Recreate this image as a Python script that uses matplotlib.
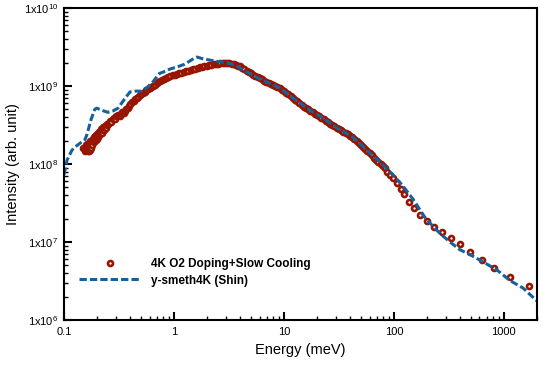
import matplotlib
matplotlib.use("Agg")
import matplotlib.pyplot as plt
from matplotlib.ticker import LogLocator, FixedLocator, NullFormatter

plt.rcParams['font.family'] = ['Liberation Sans', 'DejaVu Sans']
plt.rcParams['mathtext.fontset'] = 'custom'
plt.rcParams['mathtext.rm'] = 'Liberation Sans'

# --- data ---
# red: 4K O2 doping + slow cooling (energies in meV, intensity in units of 1e8)
red_e = [0.150, 0.155, 0.156, 0.158, 0.159, 0.160, 0.161, 0.163, 0.164, 0.165,
         0.166, 0.168, 0.169, 0.170, 0.171, 0.172, 0.174, 0.175, 0.177, 0.178,
         0.180, 0.181, 0.183, 0.184, 0.186, 0.187, 0.189, 0.190, 0.192, 0.194,
         0.196, 0.198, 0.200, 0.202, 0.204, 0.206, 0.208, 0.210, 0.212, 0.215,
         0.218, 0.220, 0.222, 0.225, 0.228, 0.230, 0.233, 0.236, 0.239, 0.242,
         0.245, 0.248, 0.252,
         0.255, 0.262, 0.270, 0.278, 0.286, 0.294, 0.300, 0.310, 0.320, 0.330,
         0.340, 0.350, 0.360, 0.370, 0.380, 0.390, 0.400, 0.415, 0.430, 0.445,
         0.460, 0.475, 0.490, 0.505, 0.520, 0.540, 0.560, 0.580, 0.600, 0.620,
         0.645, 0.670, 0.695, 0.720, 0.750, 0.780, 0.810, 0.850, 0.890, 0.930, 0.970,
         1.02, 1.07, 1.12, 1.17, 1.23, 1.29, 1.35, 1.42, 1.49, 1.56, 1.64, 1.72,
         1.80, 1.89, 1.98, 2.08, 2.18, 2.29, 2.40, 2.52, 2.64, 2.77, 2.90, 3.04,
         3.19, 3.35, 3.52,
         3.63, 3.80, 3.98, 4.17, 4.37, 4.57, 4.79, 5.01, 5.25, 5.50, 5.75, 6.03,
         6.31, 6.61, 6.92, 7.24, 7.59, 7.94, 8.32, 8.71, 9.12, 9.55, 10.0, 10.5,
         11.0, 11.5, 12.0, 12.6, 13.2, 13.8, 14.5, 15.1, 15.8, 16.6, 17.4, 18.2,
         19.1, 20.0, 20.9, 21.9, 22.9, 24.0, 25.1, 26.3, 27.5, 28.8, 30.2, 31.6,
         33.1, 34.7, 36.3, 38.0, 39.8, 41.7, 43.7, 45.7, 47.9, 50.1, 52.5, 55.0,
         57.5, 60.3, 63.1, 66.1, 69.2, 72.4, 75.9, 79.4,
         82.8, 87.0, 92.0, 98.5, 106, 116, 123, 137, 152, 172, 199, 231, 273,
         330, 398, 491, 631, 811, 1134, 1686]
red_i = [1.60, 1.55, 1.48, 1.75, 1.60, 1.50, 1.80, 1.65, 1.50, 1.48,
         1.72, 1.60, 1.45, 1.85, 1.62, 1.50, 1.95, 1.70, 1.60, 2.00,
         1.85, 1.75, 1.95, 2.10, 2.20, 1.90, 2.00, 2.30, 2.15, 2.05,
         2.35, 2.45, 2.10, 2.20, 2.40, 2.55, 2.60, 2.35, 2.45, 2.80,
         2.65, 2.50, 2.80, 2.95, 2.75, 2.70, 2.95, 3.10, 3.05, 2.90,
         3.15, 3.30, 3.25,
         3.35, 3.60, 3.50, 3.75, 3.90, 3.80, 4.10, 4.20, 4.10, 4.40,
         4.60, 4.50, 4.80, 5.00, 5.30, 5.50, 5.90, 6.20, 6.50, 6.80,
         7.10, 7.30, 7.60, 7.90, 8.20, 8.50, 8.80, 9.10, 9.40, 9.70,
         10.0, 10.4, 10.8, 11.1, 11.5, 11.9, 12.2, 12.6, 13.0, 13.4, 13.7,
         14.0, 14.3, 14.6, 14.9, 15.2, 15.5, 15.8, 16.1, 16.4, 16.7, 17.0, 17.3,
         17.6, 17.9, 18.2, 18.5, 18.8, 19.0, 19.2, 19.4, 19.5, 19.6, 19.7, 19.7,
         19.6, 19.4, 19.0,
         18.7, 18.3, 17.8, 17.1, 16.4, 15.6, 15.1, 14.6, 14.0, 13.6, 13.2, 12.6,
         12.2, 11.7, 11.3, 10.9, 10.5, 10.2, 9.90, 9.60, 9.30, 8.90, 8.60, 8.20,
         7.80, 7.40, 7.05, 6.70, 6.35, 6.05, 5.75, 5.45, 5.20, 5.00, 4.80, 4.60,
         4.42, 4.25, 4.10, 3.93, 3.78, 3.60, 3.45, 3.30, 3.17, 3.03, 2.92, 2.80,
         2.69, 2.59, 2.49, 2.40, 2.30, 2.21, 2.10, 1.99, 1.87, 1.77, 1.66, 1.56,
         1.47, 1.38, 1.29, 1.21, 1.14, 1.07, 1.00, 0.94,
         0.89, 0.80, 0.72, 0.66, 0.57, 0.48, 0.41, 0.326, 0.273, 0.222, 0.186,
         0.156, 0.134, 0.112, 0.094, 0.074, 0.059, 0.046, 0.0356, 0.0273]

# blue: y-smeth4K (Shin)
blue_e = [0.100, 0.1065, 0.118, 0.126, 0.140, 0.155, 0.162, 0.175, 0.190, 0.199,
          0.220, 0.250, 0.280, 0.310, 0.350, 0.398, 0.450, 0.510, 0.580, 0.640,
          0.740, 0.790, 0.920, 1.06, 1.25, 1.40, 1.55, 1.62, 1.80, 2.12, 2.60,
          3.10, 3.60, 4.60, 5.60, 7.00, 9.20, 12.1, 17.2, 22.6, 30.4, 42.5, 56.6,
          74.8, 98.5, 120, 150, 190, 230, 272, 330, 396, 500, 601, 862, 1137,
          1494, 2000]
blue_i = [0.73, 1.12, 1.50, 1.65, 1.85, 2.05, 2.40, 3.60, 5.00, 5.20,
          4.90, 4.60, 4.80, 5.20, 6.60, 8.40, 8.60, 8.60, 9.80, 11.2,
          14.5, 15.0, 16.5, 17.5, 19.0, 21.0, 23.0, 23.5, 22.5, 21.5, 20.5,
          19.7, 18.5, 15.1, 13.0, 11.2, 9.40, 7.00, 4.90, 3.90, 2.90, 2.20, 1.51,
          1.06, 0.72, 0.53, 0.35, 0.21, 0.155, 0.123, 0.098, 0.080, 0.068, 0.059,
          0.044, 0.032, 0.0257, 0.0175]

red_label = "4K O2 Doping+Slow Cooling"
blue_label = "y-smeth4K (Shin)"
y_ticks = [1e6, 1e7, 1e8, 1e9, 1e10]
y_ticklabels = [r"1x10$^{6}$", r"1x10$^{7}$", r"1x10$^{8}$", r"1x10$^{9}$", r"1x10$^{10}$"]
x_ticks = [0.1, 1, 10, 100, 1000]
x_ticklabels = ["0.1", "1", "10", "100", "1000"]

red_c = '#961400'
blue_c = '#16609c'

fig = plt.figure(figsize=(5.45, 3.85), dpi=100)
ax = fig.add_axes([0.1174, 0.1688, 0.8679, 0.8104])

ax.plot(red_e, [v * 1e8 for v in red_i], linestyle='none', marker='o',
        markersize=3.6, markeredgewidth=1.9, markeredgecolor=red_c,
        markerfacecolor='white', label=red_label)
ax.plot(blue_e, [v * 1e8 for v in blue_i], color=blue_c, linewidth=2.2,
        linestyle=(0, (2.4, 1.0)), label=blue_label)

ax.set_xscale('log')
ax.set_yscale('log')
ax.set_xlim(0.1, 2000)
ax.set_ylim(1e6, 1e10)

ax.xaxis.set_major_locator(FixedLocator(x_ticks))
ax.set_xticklabels(x_ticklabels)
ax.xaxis.set_minor_locator(LogLocator(base=10, subs=range(2, 10)))
ax.xaxis.set_minor_formatter(NullFormatter())
ax.yaxis.set_major_locator(FixedLocator(y_ticks))
ax.set_yticklabels(y_ticklabels)
ax.yaxis.set_minor_locator(LogLocator(base=10, subs=range(2, 10)))
ax.yaxis.set_minor_formatter(NullFormatter())

ax.tick_params(which='both', direction='in', top=False, right=False, labelsize=8)
ax.tick_params(which='major', length=6, width=1.5)
ax.tick_params(which='minor', length=3, width=1.0)
ax.tick_params(axis='y', pad=4)
ax.tick_params(axis='x', pad=5)
for s in ax.spines.values():
    s.set_linewidth(1.5)

ax.set_xlabel("Energy (meV)", fontsize=10.5, labelpad=4)
ax.set_ylabel("Intensity (arb. unit)", fontsize=10.5, labelpad=2.5)

leg = ax.legend(loc='center left', bbox_to_anchor=(79 / 545, 1 - 272.5 / 385),
                bbox_transform=fig.transFigure, frameon=False, numpoints=1,
                prop={'weight': 'bold', 'size': 8.5}, handlelength=5.2,
                handletextpad=0.9, borderpad=0, borderaxespad=0, labelspacing=0.35)

plt.savefig("out.png", dpi=100)
